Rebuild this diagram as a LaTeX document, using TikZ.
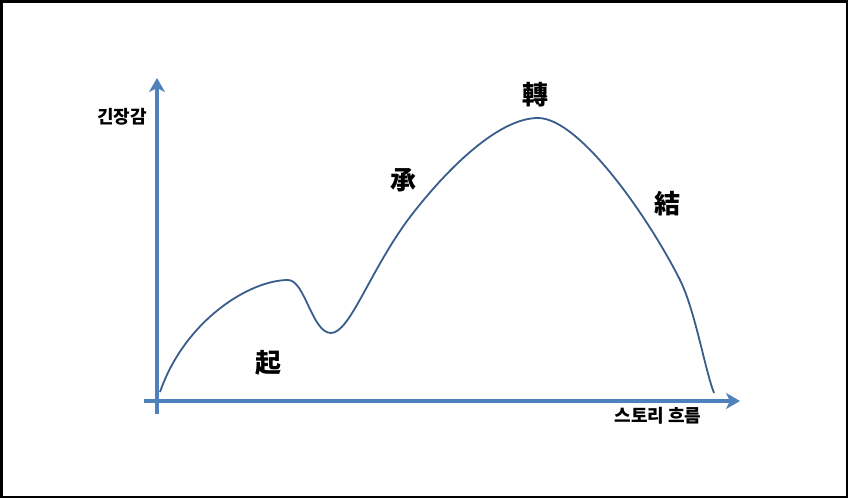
\documentclass[tikz,border=0pt]{standalone}
\usepackage{fontspec}
\newfontfamily\krfont{Noto Sans CJK KR}
\usetikzlibrary{arrows.meta}
\definecolor{axisblue}{HTML}{4F81BD}
\definecolor{curveblue}{HTML}{385D8A}

\begin{document}
\begin{tikzpicture}[x=1pt,y=-1pt,
  axis/.style={line width=4pt,axisblue,-{Stealth[length=14pt,width=16pt,inset=4pt]}},
  storyline/.style={line width=1.8pt,curveblue},
  hanja/.style={font=\krfont\bfseries\fontsize{26}{26}\selectfont},
  axislabel/.style={font=\krfont\bfseries\fontsize{18}{18}\selectfont}]
\useasboundingbox (0,0) rectangle (848,498);
\draw[line width=2.5pt] (1.25,1.25) rectangle (846.75,496.75);
\coordinate (origin-y) at (157,414);
\coordinate (top) at (157,78);
\coordinate (origin-x) at (144,401);
\coordinate (right) at (740,401);
\draw[axis] (origin-y) -- (top);
\draw[axis] (origin-x) -- (right);
% story curve
\draw[storyline] (160,392) .. controls (185,320) and (250,280) .. (288,280)
  .. controls (305,280) and (312,333) .. (331,333)
  .. controls (350,333) and (370,270) .. (410,217)
  .. controls (450,165) and (500,118) .. (538,118)
  .. controls (580,118) and (650,220) .. (680,280)
  .. controls (695,310) and (705,370) .. (714,393);
\node (tension-label) at (122,117) [axislabel] {긴장감};
\node (story-label) at (658,416) [axislabel] {스토리 흐름};
\node (gi) at (268,363) [hanja] {起};
\node (seung) at (403,180) [hanja] {承};
\node (jeon) at (535,95) [hanja] {轉};
\node (gyeol) at (667,204) [hanja] {結};
\end{tikzpicture}
\end{document}
